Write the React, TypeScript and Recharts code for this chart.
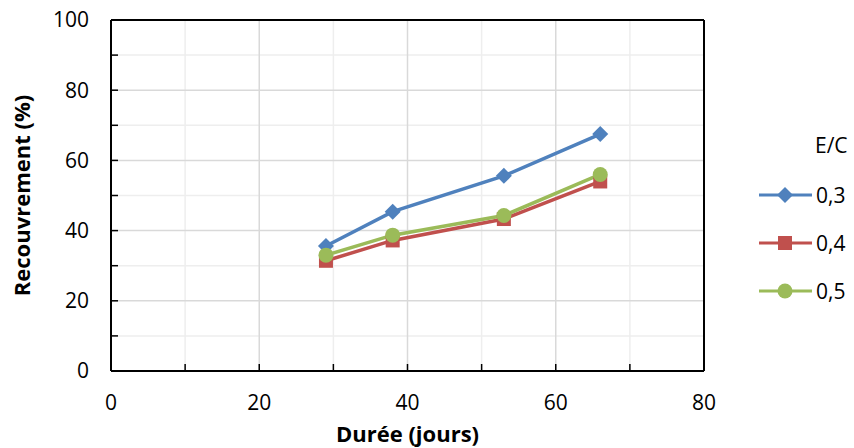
import {
  CartesianGrid,
  Line,
  LineChart,
  ReferenceLine,
  XAxis,
  YAxis,
} from "recharts";

// durée (jours)
const days = [29, 38, 53, 66];
// recouvrement (%) pour chaque rapport E/C
const ec03 = [35.6, 45.4, 55.6, 67.5];
const ec04 = [31.4, 37.2, 43.3, 54.0];
const ec05 = [33.0, 38.7, 44.3, 56.0];

// all tick marks (every 10), labels only on multiples of 20
const xTicks = [0, 10, 20, 30, 40, 50, 60, 70, 80];
const yTicks = [0, 10, 20, 30, 40, 50, 60, 70, 80, 90, 100];
const minorX = [10, 30, 50, 70];
const majorX = [20, 40, 60];
const minorY = [10, 30, 50, 70, 90];
const majorY = [20, 40, 60, 80];

const FONT = "'Open Sans', sans-serif";

const series = [
  { key: "ec03", name: "0,3", color: "#4f81bd", shape: "diamond" },
  { key: "ec04", name: "0,4", color: "#c0504d", shape: "square" },
  { key: "ec05", name: "0,5", color: "#9bbb59", shape: "circle" },
];

const data = days.map((d, i) => ({
  day: d,
  ec03: ec03[i],
  ec04: ec04[i],
  ec05: ec05[i],
}));

const labelEvery20 = (v: number) => (v % 20 === 0 ? String(v) : "");

const Marker = ({ cx, cy, shape, color }: any) => {
  if (cx == null || cy == null) return null;
  if (shape === "diamond") {
    const r = 8;
    return (
      <polygon
        points={`${cx},${cy - r} ${cx + r},${cy} ${cx},${cy + r} ${cx - r},${cy}`}
        fill={color}
      />
    );
  }
  if (shape === "square") {
    return <rect x={cx - 7} y={cy - 7} width={14} height={14} fill={color} />;
  }
  return <circle cx={cx} cy={cy} r={7.5} fill={color} />;
};

const LegendBox = () => (
  <div
    style={{
      position: "absolute",
      left: 758,
      top: 131,
      fontFamily: FONT,
      fontSize: 21,
      color: "#000",
    }}
  >
    <div style={{ marginLeft: 57, marginBottom: 8, height: 32 }}>E/C</div>
    {series.map((s) => (
      <div
        key={s.key}
        style={{ display: "flex", alignItems: "center", height: 48 }}
      >
        <svg width={56} height={20}>
          <line x1={1} y1={10} x2={54} y2={10} stroke={s.color} strokeWidth={3} />
          <Marker cx={27} cy={10} shape={s.shape} color={s.color} />
        </svg>
        <span style={{ marginLeft: 2 }}>{s.name}</span>
      </div>
    ))}
  </div>
);

export default function App() {
  return (
    <div style={{ position: "absolute", left: 0, top: 0, width: 854, height: 448, background: "#fff" }}>
      <LineChart
        width={854}
        height={448}
        data={data}
        margin={{ top: 20, right: 150, bottom: 0, left: 0 }}
      >
        <CartesianGrid stroke="none" />
        {minorX.map((v) => (
          <ReferenceLine key={"mx" + v} x={v} stroke="#eeeeee" strokeWidth={1.5} />
        ))}
        {minorY.map((v) => (
          <ReferenceLine key={"my" + v} y={v} stroke="#eeeeee" strokeWidth={1.5} />
        ))}
        {majorX.map((v) => (
          <ReferenceLine key={"Mx" + v} x={v} stroke="#d9d9d9" strokeWidth={1.5} />
        ))}
        {majorY.map((v) => (
          <ReferenceLine key={"My" + v} y={v} stroke="#d9d9d9" strokeWidth={1.5} />
        ))}
        <ReferenceLine y={100} stroke="#000" strokeWidth={2} />
        <ReferenceLine x={80} stroke="#000" strokeWidth={2} />
        <XAxis
          dataKey="day"
          type="number"
          domain={[0, 80]}
          ticks={xTicks}
          interval={0}
          tickFormatter={labelEvery20}
          height={77}
          tickSize={-7}
          tickLine={{ stroke: "#000", strokeWidth: 1.5 }}
          axisLine={{ stroke: "#000", strokeWidth: 2 }}
          tickMargin={31}
          tick={{ fill: "#000", fontSize: 21, fontFamily: FONT }}
          label={{
            value: "Durée (jours)",
            position: "insideBottom",
            offset: 6,
            style: { fill: "#000", fontSize: 22, fontWeight: 700, fontFamily: FONT },
          }}
        />
        <YAxis
          type="number"
          domain={[0, 100]}
          ticks={yTicks}
          interval={0}
          tickFormatter={labelEvery20}
          width={111}
          tickSize={-7}
          tickLine={{ stroke: "#000", strokeWidth: 1.5 }}
          axisLine={{ stroke: "#000", strokeWidth: 2 }}
          tickMargin={29}
          tick={{ fill: "#000", fontSize: 21, fontFamily: FONT }}
          label={{
            value: "Recouvrement (%)",
            angle: -90,
            position: "insideLeft",
            offset: 22,
            style: {
              fill: "#000",
              fontSize: 22,
              fontWeight: 700,
              fontFamily: FONT,
              textAnchor: "middle",
            },
          }}
        />
        {series.map((s) => (
          <Line
            key={s.key}
            dataKey={s.key}
            name={s.name}
            stroke={s.color}
            strokeWidth={3.5}
            isAnimationActive={false}
            dot={(p: any) => (
              <Marker key={s.key + p.index} cx={p.cx} cy={p.cy} shape={s.shape} color={s.color} />
            )}
            activeDot={false}
          />
        ))}
      </LineChart>
      <LegendBox />
    </div>
  );
}
